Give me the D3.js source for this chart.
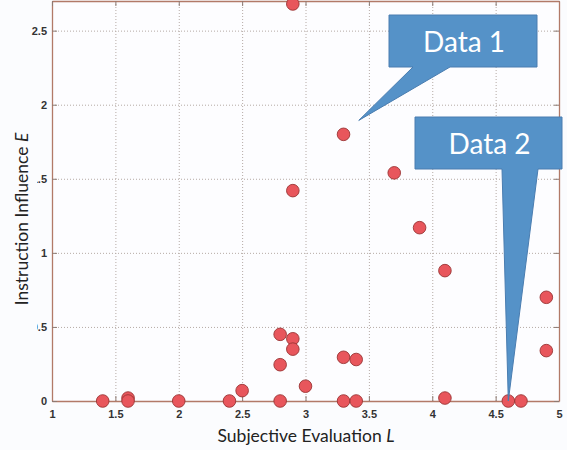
<!DOCTYPE html>
<html>
<head>
<meta charset="utf-8">
<script src="https://cdn.jsdelivr.net/npm/d3@7"></script>
<style>
  body { margin: 0; background: #fbfcfe; }
  svg { display: block; }
</style>
</head>
<body>
<div id="chart"></div>
<script>
// subjective evaluation (x) and instruction influence (y) per point
const evalL = [2.9, 3.3, 2.9, 3.7, 3.9, 4.1, 4.9, 4.9, 4.1, 4.6, 4.7,
               2.8, 2.9, 2.9, 2.8, 3.3, 3.4, 3.0, 2.5, 2.4, 2.8, 3.3, 3.4,
               1.4, 1.6, 1.6, 2.0];
const influenceE = [2.68, 1.8, 1.42, 1.54, 1.17, 0.88, 0.7, 0.34, 0.02, 0, 0,
                    0.45, 0.42, 0.35, 0.245, 0.295, 0.28, 0.1, 0.07, 0, 0, 0, 0,
                    0, 0.02, 0, 0];
const xTicks = [1, 1.5, 2, 2.5, 3, 3.5, 4, 4.5, 5];
const yTicks = [0, 0.5, 1, 1.5, 2, 2.5];
const calloutText = ["Data 1", "Data 2"];
const calloutTipL = [3.42, 4.6];
const calloutTipE = [1.894, 0];

const points = evalL.map((v, i) => ({L: v, E: influenceE[i]}));

const W = 567, H = 450;
const margin = {top: 1, right: 8, bottom: 49, left: 52};
const width = W - margin.left - margin.right,
      height = H - margin.top - margin.bottom;

const svg = d3.select("#chart").append("svg")
    .attr("width", W)
    .attr("height", H);

const g = svg.append("g")
    .attr("transform", `translate(${margin.left},${margin.top})`);

const x = d3.scaleLinear().domain([1, 5]).range([0, width]);
const y = d3.scaleLinear().domain([0, 2.7]).range([height, 0]);

g.append("rect")
    .attr("width", width)
    .attr("height", height)
    .attr("fill", "#fdfdff");

// dotted grid
g.append("g")
    .call(d3.axisBottom(x).tickValues(xTicks).tickSize(-height).tickFormat(""))
    .attr("transform", `translate(0,${height})`)
    .call(a => a.select(".domain").remove())
    .selectAll("line")
    .attr("stroke", "#b5aaa5")
    .attr("stroke-dasharray", "1,2");

g.append("g")
    .call(d3.axisLeft(y).tickValues(yTicks).tickSize(-width).tickFormat(""))
    .call(a => a.select(".domain").remove())
    .selectAll("line")
    .attr("stroke", "#b5aaa5")
    .attr("stroke-dasharray", "1,2");

// axes, ticks pointing inward
g.append("g")
    .attr("transform", `translate(0,${height})`)
    .call(d3.axisBottom(x).tickValues(xTicks).tickSizeInner(-5).tickSizeOuter(0)
        .tickPadding(9).tickFormat(d3.format("")));
g.append("g")
    .call(d3.axisLeft(y).tickValues(yTicks).tickSizeInner(-5).tickSizeOuter(0)
        .tickPadding(5).tickFormat(d => String(d)));

g.append("g")
    .call(d3.axisTop(x).tickValues(xTicks).tickSizeInner(-5).tickSizeOuter(0).tickFormat(""));
g.append("g")
    .attr("transform", `translate(${width},0)`)
    .call(d3.axisRight(y).tickValues(yTicks).tickSizeInner(-5).tickSizeOuter(0).tickFormat(""));

g.selectAll(".domain").attr("stroke", "#b27a68").attr("stroke-width", 1.3);
g.selectAll(".tick line").filter(function() { return this.getAttribute("stroke-dasharray") === null; })
    .attr("stroke", "#8d7a72");
g.selectAll(".tick text")
    .attr("font-family", "Liberation Sans, Arial, sans-serif")
    .attr("font-size", "11px")
    .attr("font-weight", "bold")
    .attr("fill", "#333");

// points
g.append("g").selectAll("circle")
    .data(points)
    .join("circle")
    .attr("cx", d => x(d.L))
    .attr("cy", d => y(d.E))
    .attr("r", 6.3)
    .attr("fill", "#e8565c")
    .attr("stroke", "#9a3434")
    .attr("stroke-width", 0.9);

// axis titles
const xTitle = svg.append("text")
    .attr("x", 306)
    .attr("y", 442)
    .attr("text-anchor", "middle")
    .attr("font-family", "Lato, Open Sans, sans-serif")
    .attr("font-size", "17.5px")
    .attr("fill", "#222");
xTitle.append("tspan").text("Subjective Evaluation ");
xTitle.append("tspan").attr("font-style", "italic").text("L");

svg.append("rect")
    .attr("x", 4).attr("y", 116)
    .attr("width", 33).attr("height", 224)
    .attr("fill", "#fbfcfe");

const yTitle = svg.append("text")
    .attr("transform", "translate(28,219) rotate(-90)")
    .attr("text-anchor", "middle")
    .attr("font-family", "Lato, Open Sans, sans-serif")
    .attr("font-size", "17.5px")
    .attr("fill", "#222");
yTitle.append("tspan").text("Instruction Influence ");
yTitle.append("tspan").attr("font-style", "italic").text("E");

// callouts, tip anchored to data coords
const boxes = [
  {x0: 389, y0: 15, x1: 537, y1: 67, b0: 413, b1: 450},
  {x0: 415, y0: 117, x1: 562, y1: 169, b0: 502, b1: 538}
];
boxes.forEach((b, i) => {
  const tx = x(calloutTipL[i]) + margin.left, ty = y(calloutTipE[i]) + margin.top;
  const pts = [[b.x0, b.y0], [b.x1, b.y0], [b.x1, b.y1], [b.b1, b.y1], [tx, ty], [b.b0, b.y1], [b.x0, b.y1]];
  svg.append("path")
      .attr("d", d3.line()(pts) + "Z")
      .attr("fill", "#5592c8")
      .attr("stroke", "#4a7db0")
      .attr("stroke-width", 1);
  svg.append("text")
      .attr("x", (b.x0 + b.x1) / 2 + 1)
      .attr("y", (b.y0 + b.y1) / 2 + 11)
      .attr("text-anchor", "middle")
      .attr("font-family", "Lato, Open Sans, sans-serif")
      .attr("font-size", "28px")
      .attr("fill", "#fff")
      .text(calloutText[i]);
});
</script>
</body>
</html>
